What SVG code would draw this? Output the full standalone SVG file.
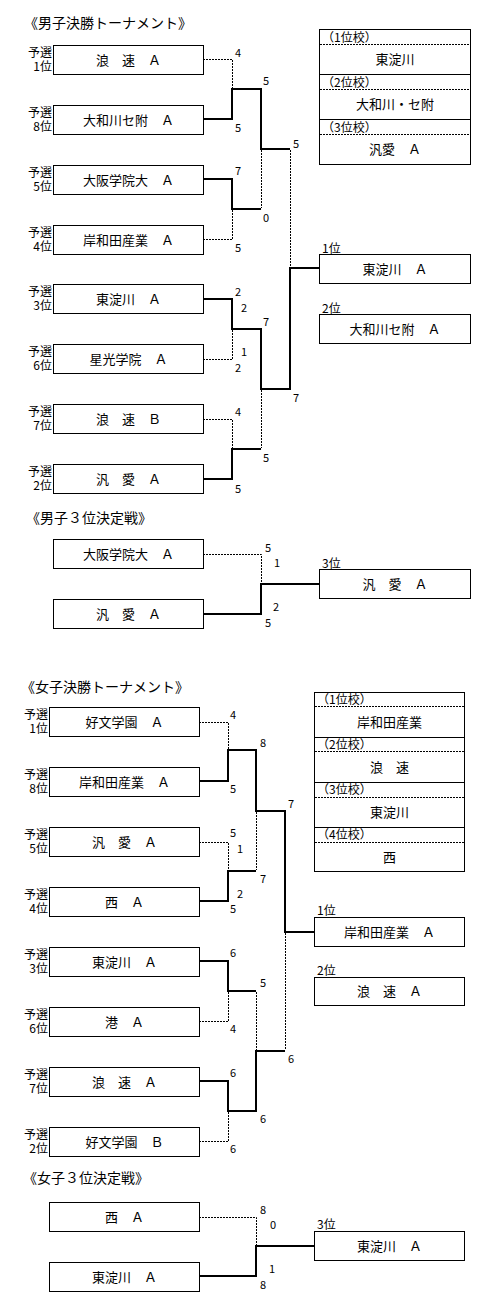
<svg xmlns="http://www.w3.org/2000/svg" width="500" height="1300" viewBox="0 0 500 1300">
<style>
text{font-family:"Noto Sans CJK JP","Liberation Sans",sans-serif;fill:#000}
.bx{fill:#fff;stroke:#000;stroke-width:1}
.win{fill:none;stroke:#000;stroke-width:2}
.lose{fill:none;stroke:#000;stroke-width:1;stroke-dasharray:2 1}
.sep{fill:none;stroke:#000;stroke-width:1}
.dsep{fill:none;stroke:#000;stroke-width:1;stroke-dasharray:2 1}
.t{font-size:13px;text-anchor:middle}
.ttl{font-size:14px}
.lb{font-size:12px;text-anchor:end}
.sc{font-size:11px}
.rk{font-size:12px}
.hd{font-size:12px}
</style>
<rect width="500" height="1300" fill="#fff"/>

<!-- Titles -->
<text class="ttl" x="24" y="27.5">《男子決勝トーナメント》</text>
<text class="ttl" x="26" y="522.5">《男子３位決定戦》</text>
<text class="ttl" x="21" y="692">《女子決勝トーナメント》</text>
<text class="ttl" x="23" y="1183">《女子３位決定戦》</text>

<!-- Connectors -->
<g id="connectors">
  <!-- men -->
  <polyline class="win" points="203,119 232,119 232,89 261,89 261,149 290,149"/>
  <polyline class="win" points="203,179 232,179 232,209 261,209"/>
  <polyline class="win" points="203,299 232,299 232,329 261,329 261,389 290,389 290,268 320,268"/>
  <polyline class="win" points="203,479 232,479 232,449 261,449"/>
  <polyline class="lose" points="203,59.5 232.5,59.5 232.5,89"/>
  <polyline class="lose" points="261.5,150 261.5,208"/>
  <polyline class="lose" points="203,239.5 232.5,239.5 232.5,210"/>
  <polyline class="lose" points="290.5,150 290.5,267"/>
  <polyline class="lose" points="203,359.5 232.5,359.5 232.5,330"/>
  <polyline class="lose" points="203,419.5 232.5,419.5 232.5,448"/>
  <polyline class="lose" points="261.5,390 261.5,448"/>
  <!-- men 3rd -->
  <polyline class="lose" points="203,554.5 261.5,554.5 261.5,583"/>
  <polyline class="win" points="203,614 261,614 261,584 319,584"/>
  <!-- women -->
  <polyline class="win" points="199,781 228,781 228,750 256,750 256,811 285,811 285,932 314,932"/>
  <polyline class="win" points="199,901 228,901 228,871 256,871"/>
  <polyline class="win" points="199,961 228,961 228,991 256,991"/>
  <polyline class="win" points="199,1081 228,1081 228,1111 256,1111 256,1051 285,1051"/>
  <polyline class="lose" points="199,722.5 228.5,722.5 228.5,749"/>
  <polyline class="lose" points="256.5,812 256.5,870"/>
  <polyline class="lose" points="199,842.5 228.5,842.5 228.5,870"/>
  <polyline class="lose" points="199,1021.5 228.5,1021.5 228.5,992"/>
  <polyline class="lose" points="256.5,992 256.5,1050"/>
  <polyline class="lose" points="285.5,933 285.5,1050"/>
  <polyline class="lose" points="199,1141.5 228.5,1141.5 228.5,1112"/>
  <!-- women 3rd -->
  <polyline class="lose" points="199,1217.5 256.5,1217.5 256.5,1245"/>
  <polyline class="win" points="199,1276 256,1276 256,1246 314,1246"/>
</g>

<!-- Scores -->
<g id="scores" class="sc">
  <text x="235" y="57">4</text>
  <text x="263" y="85">5</text>
  <text x="235" y="132">5</text>
  <text x="293" y="148">5</text>
  <text x="235" y="175">7</text>
  <text x="263" y="222">0</text>
  <text x="235" y="252">5</text>
  <text x="235" y="296">2</text>
  <text x="241" y="312">2</text>
  <text x="263" y="326">7</text>
  <text x="241" y="356">1</text>
  <text x="235" y="372">2</text>
  <text x="293" y="402">7</text>
  <text x="235" y="416">4</text>
  <text x="263" y="462">5</text>
  <text x="235" y="493">5</text>
  <text x="265" y="552">5</text>
  <text x="274" y="567">1</text>
  <text x="273" y="611">2</text>
  <text x="265" y="627">5</text>
  <text x="230" y="719">4</text>
  <text x="260" y="747">8</text>
  <text x="230" y="793">5</text>
  <text x="288" y="808">7</text>
  <text x="230" y="837">5</text>
  <text x="237" y="853">1</text>
  <text x="260" y="883">7</text>
  <text x="237" y="898">2</text>
  <text x="230" y="913">5</text>
  <text x="230" y="957">6</text>
  <text x="260" y="987">5</text>
  <text x="230" y="1033">4</text>
  <text x="288" y="1063">6</text>
  <text x="230" y="1077">6</text>
  <text x="260" y="1123">6</text>
  <text x="230" y="1153">6</text>
  <text x="260" y="1214">8</text>
  <text x="270" y="1229">0</text>
  <text x="269" y="1273">1</text>
  <text x="260" y="1289">8</text>
</g>

<!-- Men tournament nodes -->
<g id="m1"><text class="lb" x="52" y="56.5">予選</text><text class="lb" x="52" y="71">1位</text><rect class="bx" x="53.5" y="45.5" width="150" height="29"/><text class="t" x="128.5" y="64.5">浪　速　Ａ</text></g>
<g id="m2"><text class="lb" x="52" y="116.5">予選</text><text class="lb" x="52" y="131">8位</text><rect class="bx" x="53.5" y="105.5" width="150" height="29"/><text class="t" x="128.5" y="124.5">大和川セ附　Ａ</text></g>
<g id="m3"><text class="lb" x="52" y="176.5">予選</text><text class="lb" x="52" y="191">5位</text><rect class="bx" x="53.5" y="165.5" width="150" height="29"/><text class="t" x="128.5" y="184.5">大阪学院大　Ａ</text></g>
<g id="m4"><text class="lb" x="52" y="236.5">予選</text><text class="lb" x="52" y="251">4位</text><rect class="bx" x="53.5" y="225.5" width="150" height="29"/><text class="t" x="128.5" y="244.5">岸和田産業　Ａ</text></g>
<g id="m5"><text class="lb" x="52" y="295.5">予選</text><text class="lb" x="52" y="310">3位</text><rect class="bx" x="53.5" y="284.5" width="150" height="29"/><text class="t" x="128.5" y="303.5">東淀川　Ａ</text></g>
<g id="m6"><text class="lb" x="52" y="355.5">予選</text><text class="lb" x="52" y="370">6位</text><rect class="bx" x="53.5" y="344.5" width="150" height="29"/><text class="t" x="128.5" y="363.5">星光学院　Ａ</text></g>
<g id="m7"><text class="lb" x="52" y="415.5">予選</text><text class="lb" x="52" y="430">7位</text><rect class="bx" x="53.5" y="404.5" width="150" height="29"/><text class="t" x="128.5" y="423.5">浪　速　Ｂ</text></g>
<g id="m8"><text class="lb" x="52" y="475.5">予選</text><text class="lb" x="52" y="490">2位</text><rect class="bx" x="53.5" y="464.5" width="150" height="29"/><text class="t" x="128.5" y="483.5">汎　愛　Ａ</text></g>

<!-- Men summary table -->
<g id="m-table">
  <rect class="bx" x="319.5" y="29.5" width="151" height="135"/>
  <line class="dsep" x1="320" y1="44.5" x2="470" y2="44.5"/>
  <line class="sep" x1="320" y1="74.5" x2="470" y2="74.5"/>
  <line class="dsep" x1="320" y1="89.5" x2="470" y2="89.5"/>
  <line class="sep" x1="320" y1="119.5" x2="470" y2="119.5"/>
  <line class="dsep" x1="320" y1="134.5" x2="470" y2="134.5"/>
  <text class="hd" x="322" y="41.5">（1位校）</text>
  <text class="t" x="395" y="64">東淀川</text>
  <text class="hd" x="322" y="86.5">（2位校）</text>
  <text class="t" x="395" y="109">大和川・セ附</text>
  <text class="hd" x="322" y="131.5">（3位校）</text>
  <text class="t" x="395" y="154">汎愛　Ａ</text>
</g>

<g id="m-1st"><text class="rk" x="322" y="252.5">1位</text><rect class="bx" x="319.5" y="254.5" width="151" height="29"/><text class="t" x="395" y="274">東淀川　Ａ</text></g>
<g id="m-2nd"><text class="rk" x="322" y="312.5">2位</text><rect class="bx" x="319.5" y="314.5" width="151" height="29"/><text class="t" x="395" y="334">大和川セ附　Ａ</text></g>

<!-- Men 3rd place -->
<g id="m3p-a"><rect class="bx" x="53.5" y="539.5" width="150" height="29"/><text class="t" x="128.5" y="559">大阪学院大　Ａ</text></g>
<g id="m3p-b"><rect class="bx" x="53.5" y="599.5" width="150" height="29"/><text class="t" x="128.5" y="619">汎　愛　Ａ</text></g>
<g id="m-3rd"><text class="rk" x="322" y="567.5">3位</text><rect class="bx" x="319.5" y="569.5" width="151" height="29"/><text class="t" x="395" y="589">汎　愛　Ａ</text></g>

<!-- Women tournament nodes -->
<g id="w1"><text class="lb" x="48" y="718.5">予選</text><text class="lb" x="48" y="733">1位</text><rect class="bx" x="49.5" y="707.5" width="150" height="29"/><text class="t" x="124.5" y="726.5">好文学園　Ａ</text></g>
<g id="w2"><text class="lb" x="48" y="778.5">予選</text><text class="lb" x="48" y="793">8位</text><rect class="bx" x="49.5" y="767.5" width="150" height="29"/><text class="t" x="124.5" y="786.5">岸和田産業　Ａ</text></g>
<g id="w3"><text class="lb" x="48" y="838.5">予選</text><text class="lb" x="48" y="853">5位</text><rect class="bx" x="49.5" y="827.5" width="150" height="29"/><text class="t" x="124.5" y="846.5">汎　愛　Ａ</text></g>
<g id="w4"><text class="lb" x="48" y="898.5">予選</text><text class="lb" x="48" y="913">4位</text><rect class="bx" x="49.5" y="887.5" width="150" height="29"/><text class="t" x="124.5" y="906.5">西　Ａ</text></g>
<g id="w5"><text class="lb" x="48" y="958.5">予選</text><text class="lb" x="48" y="973">3位</text><rect class="bx" x="49.5" y="947.5" width="150" height="29"/><text class="t" x="124.5" y="966.5">東淀川　Ａ</text></g>
<g id="w6"><text class="lb" x="48" y="1018.5">予選</text><text class="lb" x="48" y="1033">6位</text><rect class="bx" x="49.5" y="1007.5" width="150" height="29"/><text class="t" x="124.5" y="1026.5">港　Ａ</text></g>
<g id="w7"><text class="lb" x="48" y="1078.5">予選</text><text class="lb" x="48" y="1093">7位</text><rect class="bx" x="49.5" y="1067.5" width="150" height="29"/><text class="t" x="124.5" y="1086.5">浪　速　Ａ</text></g>
<g id="w8"><text class="lb" x="48" y="1138.5">予選</text><text class="lb" x="48" y="1153">2位</text><rect class="bx" x="49.5" y="1127.5" width="150" height="29"/><text class="t" x="124.5" y="1146.5">好文学園　Ｂ</text></g>

<!-- Women summary table -->
<g id="w-table">
  <rect class="bx" x="314.5" y="692.5" width="150" height="179"/>
  <line class="dsep" x1="315" y1="706.5" x2="464" y2="706.5"/>
  <line class="sep" x1="315" y1="737.5" x2="464" y2="737.5"/>
  <line class="dsep" x1="315" y1="751.5" x2="464" y2="751.5"/>
  <line class="sep" x1="315" y1="782.5" x2="464" y2="782.5"/>
  <line class="dsep" x1="315" y1="797.5" x2="464" y2="797.5"/>
  <line class="sep" x1="315" y1="827.5" x2="464" y2="827.5"/>
  <line class="dsep" x1="315" y1="842.5" x2="464" y2="842.5"/>
  <text class="hd" x="317" y="703.5">（1位校）</text>
  <text class="t" x="389.5" y="726.5">岸和田産業</text>
  <text class="hd" x="317" y="748.5">（2位校）</text>
  <text class="t" x="389.5" y="771.5">浪　速</text>
  <text class="hd" x="317" y="793.5">（3位校）</text>
  <text class="t" x="389.5" y="817">東淀川</text>
  <text class="hd" x="317" y="838.5">（4位校）</text>
  <text class="t" x="389.5" y="861.5">西</text>
</g>

<g id="w-1st"><text class="rk" x="317" y="915">1位</text><rect class="bx" x="314.5" y="917.5" width="150" height="29"/><text class="t" x="389.5" y="936.5">岸和田産業　Ａ</text></g>
<g id="w-2nd"><text class="rk" x="317" y="975">2位</text><rect class="bx" x="314.5" y="977.5" width="150" height="28"/><text class="t" x="389.5" y="996">浪　速　Ａ</text></g>

<!-- Women 3rd place -->
<g id="w3p-a"><rect class="bx" x="49.5" y="1202.5" width="150" height="29"/><text class="t" x="124.5" y="1221.5">西　Ａ</text></g>
<g id="w3p-b"><rect class="bx" x="49.5" y="1262.5" width="150" height="29"/><text class="t" x="124.5" y="1281.5">東淀川　Ａ</text></g>
<g id="w-3rd"><text class="rk" x="317" y="1229">3位</text><rect class="bx" x="314.5" y="1231.5" width="150" height="29"/><text class="t" x="389.5" y="1251">東淀川　Ａ</text></g>
</svg>
